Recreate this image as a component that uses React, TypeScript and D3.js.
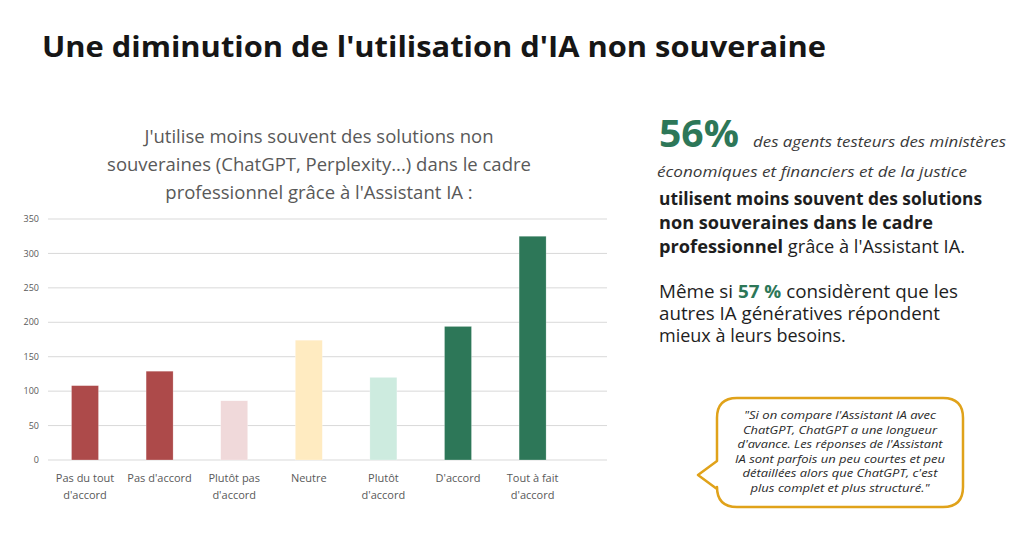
import React from "react";
import * as d3 from "d3";

const categories = [
  ["Pas du tout", "d'accord"],
  ["Pas d'accord"],
  ["Plutôt pas", "d'accord"],
  ["Neutre"],
  ["Plutôt", "d'accord"],
  ["D'accord"],
  ["Tout à fait", "d'accord"],
];
const values = [108, 129, 86, 174, 120, 194, 325];
const barColors = ["#AD4A4A", "#AD4A4A", "#F0D9DA", "#FFEBC1", "#CDEBDF", "#2D7758", "#2D7758"];
const yTicks = [0, 50, 100, 150, 200, 250, 300, 350];

const pageTitle = "Une diminution de l'utilisation d'IA non souveraine";
const chartTitle = [
  "J'utilise moins souvent des solutions non",
  "souveraines (ChatGPT, Perplexity...) dans le cadre",
  "professionnel grâce à l'Assistant IA :",
];
const quoteLines = [
  "\"Si on compare l'Assistant IA avec",
  "ChatGPT, ChatGPT a une longueur",
  "d'avance. Les réponses de l'Assistant",
  "IA sont parfois un peu courtes et peu",
  "détaillées alors que ChatGPT, c'est",
  "plus complet et plus structuré.\"",
];
const quoteWidths = [192, 194, 205, 210, 195, 179];

const W = 1024;
const H = 558;

export default function App() {
  const keys = categories.map((c) => c.join(" "));
  const x = d3
    .scaleBand<string>()
    .domain(keys)
    .range([47.7, 569.9])
    .paddingInner(0.638)
    .paddingOuter(0.319);
  const y = d3.scaleLinear().domain([0, 350]).range([460, 219]);

  const green = "#2D7758";
  const sans = "'Open Sans', sans-serif";
  const chartFont = "'Open Sans', sans-serif";
  const adj = "spacingAndGlyphs";

  const bx0 = 717, by0 = 398, bx1 = 963, by1 = 507, r = 20;
  const bubble = d3.path();
  bubble.moveTo(bx0 + r, by0);
  bubble.lineTo(bx1 - r, by0);
  bubble.quadraticCurveTo(bx1, by0, bx1, by0 + r);
  bubble.lineTo(bx1, by1 - r);
  bubble.quadraticCurveTo(bx1, by1, bx1 - r, by1);
  bubble.lineTo(bx0 + r, by1);
  bubble.quadraticCurveTo(bx0, by1, bx0, by1 - r);
  bubble.lineTo(bx0, 489);
  bubble.lineTo(698, 475);
  bubble.lineTo(bx0, 461);
  bubble.lineTo(bx0, by0 + r);
  bubble.quadraticCurveTo(bx0, by0, bx0 + r, by0);
  bubble.closePath();

  return (
    <svg
      width={W}
      height={H}
      viewBox={`0 0 ${W} ${H}`}
      style={{ position: "absolute", left: 0, top: 0, background: "#fff" }}
    >
      <rect x={0} y={0} width={W} height={H} fill="#fff" />
      <text x={42} y={57} fontFamily={sans} fontWeight={700} fontSize={28.5} fill="#161616" textLength={784} lengthAdjust={adj}>
        {pageTitle}
      </text>

      {chartTitle.map((t, i) => (
        <text
          key={i}
          x={319}
          y={143 + i * 28}
          textAnchor="middle"
          fontFamily={chartFont}
          fontSize={18.5}
          fill="#595959"
        >
          {t}
        </text>
      ))}

      {yTicks.map((t) => (
        <g key={t}>
          <line x1={48} x2={607} y1={y(t)} y2={y(t)} stroke="#D9D9D9" strokeWidth={1} />
          <text
            x={39}
            y={y(t)}
            dy="0.35em"
            textAnchor="end"
            fontFamily={chartFont}
            fontSize={9}
            fill="#595959"
          >
            {t}
          </text>
        </g>
      ))}

      {values.map((v, i) => (
        <rect
          key={keys[i]}
          x={x(keys[i])}
          y={y(v)}
          width={x.bandwidth()}
          height={y(0) - y(v)}
          fill={barColors[i]}
          stroke="#fff"
          strokeOpacity={0.5}
          strokeWidth={0.5}
        />
      ))}

      {categories.map((lines, i) =>
        lines.map((l, j) => (
          <text
            key={keys[i] + j}
            x={(x(keys[i]) as number) + x.bandwidth() / 2}
            y={482 + j * 17}
            textAnchor="middle"
            fontFamily={chartFont}
            fontSize={11}
            fill="#595959"
          >
            {l}
          </text>
        ))
      )}

      <text x={659} y={147} fontFamily={sans} fontWeight={700} fontSize={38} fill={green} textLength={80} lengthAdjust={adj}>
        56%
      </text>
      <text x={753} y={147} fontFamily={sans} fontStyle="italic" fontSize={15} fill="#3A3A3A" textLength={253} lengthAdjust={adj}>
        des agents testeurs des ministères
      </text>
      <text x={657} y={177} fontFamily={sans} fontStyle="italic" fontSize={15} fill="#3A3A3A" textLength={310} lengthAdjust={adj}>
        économiques et financiers et de la justice
      </text>
      <text x={659} y={205} fontFamily={sans} fontWeight={700} fontSize={17} fill="#1E1E1E" textLength={323} lengthAdjust={adj}>
        utilisent moins souvent des solutions
      </text>
      <text x={659} y={229} fontFamily={sans} fontWeight={700} fontSize={17} fill="#1E1E1E" textLength={274} lengthAdjust={adj}>
        non souveraines dans le cadre
      </text>
      <text x={659} y={253} fontFamily={sans} fontSize={17.5} fill="#1E1E1E" textLength={306} lengthAdjust={adj}>
        <tspan fontWeight={700}>professionnel</tspan>
        <tspan> grâce à l'Assistant IA.</tspan>
      </text>
      <text x={659} y={298} fontFamily={sans} fontSize={18} fill="#1E1E1E" textLength={299} lengthAdjust={adj}>
        <tspan>Même si </tspan>
        <tspan fontWeight={700} fill={green}>57 %</tspan>
        <tspan> considèrent que les</tspan>
      </text>
      <text x={659} y={320} fontFamily={sans} fontSize={18} fill="#1E1E1E" textLength={281} lengthAdjust={adj}>
        autres IA génératives répondent
      </text>
      <text x={659} y={342} fontFamily={sans} fontSize={18} fill="#1E1E1E">
        mieux à leurs besoins.
      </text>

      <path d={bubble.toString()} fill="#fff" stroke="#E0A21A" strokeWidth={2.5} strokeLinejoin="round" />
      {quoteLines.map((l, i) => (
        <text
          key={i}
          x={840}
          y={419 + i * 14.6}
          textAnchor="middle"
          fontFamily={sans}
          fontStyle="italic"
          fontSize={11.5}
          fill="#2A2A2A"
          textLength={quoteWidths[i]}
          lengthAdjust={adj}
        >
          {l}
        </text>
      ))}
    </svg>
  );
}
